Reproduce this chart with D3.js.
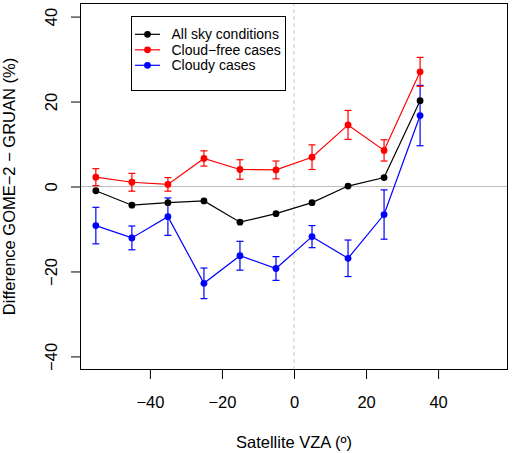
<!DOCTYPE html>
<html>
<head>
<meta charset="utf-8">
<script src="https://cdn.jsdelivr.net/npm/d3@7"></script>
<style>
  body { margin: 0; background: #fff; }
  text { font-family: "Liberation Sans", Arial, Helvetica, sans-serif; }
</style>
</head>
<body>
<div id="chart"></div>
<script>
// satellite viewing zenith angle bins
var vza = [-55, -45, -35, -25, -15, -5, 5, 15, 25, 35];

var allSky = [-1.0, -4.4, -3.8, -3.4, -8.4, -6.4, -3.8, 0.1, 2.1, 20.2];
var clearMean = [2.2, 1.0, 0.5, 6.6, 4.0, 3.9, 6.9, 14.5, 8.5, 27.0];
var clearErr = [2.0, 2.1, 1.6, 1.8, 2.3, 2.1, 2.9, 3.4, 2.5, 3.4];
var cloudyMean = [-9.2, -12.1, -7.1, -22.8, -16.3, -19.3, -11.8, -16.9, -6.6, 16.7];
var cloudyErr = [4.3, 2.8, 4.4, 3.6, 3.4, 2.8, 2.6, 4.3, 5.8, 7.1];

var xTicks = [-40, -20, 0, 20, 40];
var yTicks = [-40, -20, 0, 20, 40];

var legendNames = ['All sky conditions', 'Cloud\u2212free cases', 'Cloudy cases'];
var legendColors = ['black', 'red', 'blue'];

var width = 532, height = 453;
var margin = { top: 3, right: 24, bottom: 83, left: 80 };

var svg = d3.select('#chart').append('svg')
  .attr('width', width)
  .attr('height', height);

var x = d3.scaleLinear().domain([-59.4, 59.4]).range([margin.left, width - margin.right]);
var y = d3.scaleLinear().domain([-43.2, 43.2]).range([height - margin.bottom, margin.top]);

// reference lines
svg.append('line')
  .attr('x1', x(0)).attr('x2', x(0))
  .attr('y1', y.range()[0]).attr('y2', y.range()[1])
  .attr('stroke', '#c8c8c8')
  .attr('stroke-dasharray', '4,3');

svg.append('line')
  .attr('x1', x.range()[0]).attr('x2', x.range()[1])
  .attr('y1', y(0)).attr('y2', y(0))
  .attr('stroke', '#bebebe');

// axes
var fs = '16.5px';

var xAxis = svg.append('g')
  .attr('transform', 'translate(0,' + (height - margin.bottom) + ')')
  .call(d3.axisBottom(x).tickValues(xTicks).tickSize(9).tickSizeOuter(0));
xAxis.select('.domain').remove();
xAxis.selectAll('line').attr('stroke', '#000');
xAxis.selectAll('text')
  .attr('y', 37.5).attr('dy', 0)
  .attr('fill', '#000')
  .style('font-size', fs);

var yAxis = svg.append('g')
  .attr('transform', 'translate(' + margin.left + ',0)')
  .call(d3.axisLeft(y).tickValues(yTicks).tickSize(9).tickSizeOuter(0));
yAxis.select('.domain').remove();
yAxis.selectAll('line').attr('stroke', '#000');
yAxis.selectAll('text')
  .attr('transform', 'rotate(-90)')
  .attr('x', 0).attr('y', -23.5).attr('dy', 0)
  .attr('text-anchor', 'middle')
  .attr('fill', '#000')
  .style('font-size', fs);

// box
svg.append('rect')
  .attr('x', margin.left + 0.5)
  .attr('y', margin.top + 0.5)
  .attr('width', width - margin.left - margin.right - 1)
  .attr('height', height - margin.top - margin.bottom - 1)
  .attr('fill', 'none')
  .attr('stroke', '#000');

// axis titles
svg.append('text')
  .attr('x', (x.range()[0] + x.range()[1]) / 2)
  .attr('y', 448)
  .attr('text-anchor', 'middle')
  .style('font-size', fs)
  .text('Satellite VZA (\u00ba)');

svg.append('text')
  .attr('transform', 'translate(15,' + ((y.range()[0] + y.range()[1]) / 2) + ') rotate(-90)')
  .attr('text-anchor', 'middle')
  .style('font-size', fs)
  .text('Difference GOME\u22122 \u2212 GRUAN (%)');

// series
function drawSeries(vals, errs, color) {
  var pts = vza.map(function(v, i) { return { x: v, y: vals[i], e: errs ? errs[i] : null }; });
  var g = svg.append('g');
  if (errs) {
    var eb = g.selectAll('.eb').data(pts).enter().append('g').attr('stroke', color).attr('stroke-width', 1.2);
    eb.append('line')
      .attr('x1', function(d) { return x(d.x); }).attr('x2', function(d) { return x(d.x); })
      .attr('y1', function(d) { return y(d.y - d.e); }).attr('y2', function(d) { return y(d.y + d.e); });
    eb.append('line')
      .attr('x1', function(d) { return x(d.x) - 3.5; }).attr('x2', function(d) { return x(d.x) + 3.5; })
      .attr('y1', function(d) { return y(d.y + d.e); }).attr('y2', function(d) { return y(d.y + d.e); });
    eb.append('line')
      .attr('x1', function(d) { return x(d.x) - 3.5; }).attr('x2', function(d) { return x(d.x) + 3.5; })
      .attr('y1', function(d) { return y(d.y - d.e); }).attr('y2', function(d) { return y(d.y - d.e); });
  }
  g.append('path')
    .datum(pts)
    .attr('fill', 'none')
    .attr('stroke', color)
    .attr('stroke-width', 1.2)
    .attr('d', d3.line().x(function(d) { return x(d.x); }).y(function(d) { return y(d.y); }));
  g.selectAll('circle').data(pts).enter().append('circle')
    .attr('cx', function(d) { return x(d.x); })
    .attr('cy', function(d) { return y(d.y); })
    .attr('r', 3.4)
    .attr('fill', color);
}

drawSeries(cloudyMean, cloudyErr, 'blue');
drawSeries(clearMean, clearErr, 'red');
drawSeries(allSky, null, 'black');

// legend
var lg = svg.append('g');
lg.append('rect')
  .attr('x', 131.5).attr('y', 16.5)
  .attr('width', 154).attr('height', 74)
  .attr('fill', '#fff').attr('stroke', '#000');

var rows = lg.selectAll('.row').data(legendNames).enter().append('g')
  .attr('transform', function(d, i) { return 'translate(0,' + (34.3 + i * 15.5) + ')'; });
rows.append('line')
  .attr('x1', 135).attr('x2', 160)
  .attr('stroke', function(d, i) { return legendColors[i]; })
  .attr('stroke-width', 1.2);
rows.append('circle')
  .attr('cx', 147.5).attr('r', 3.4)
  .attr('fill', function(d, i) { return legendColors[i]; });
rows.append('text')
  .attr('x', 171.5)
  .attr('dy', '0.35em')
  .style('font-size', '14px')
  .text(function(d) { return d; });
</script>
</body>
</html>
